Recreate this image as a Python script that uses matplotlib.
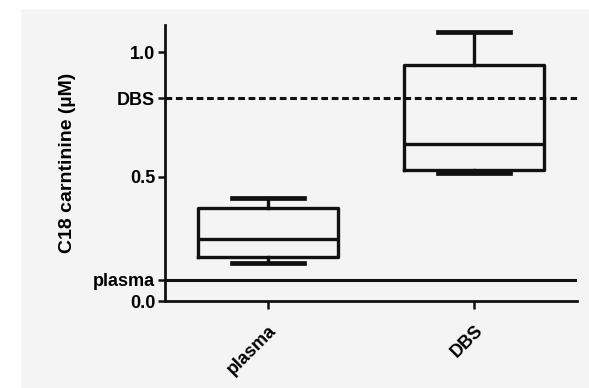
import matplotlib.pyplot as plt
from matplotlib.patches import Rectangle

plt.rcParams["font.family"] = ["Liberation Sans", "DejaVu Sans"]
plt.rcParams["font.weight"] = "bold"

groups = ["plasma", "DBS"]
whisker_low = [0.153, 0.516]
q1 = [0.177, 0.528]
median = [0.25, 0.633]
q3 = [0.375, 0.948]
whisker_high = [0.415, 1.08]

ref_labels = ["plasma", "DBS"]
ref_values = [0.085, 0.815]
ref_styles = ["-", (0, (2.2, 1.2))]

fig = plt.figure(figsize=(5.89, 3.88), dpi=100, facecolor="#f4f4f4")
fig.patches.append(Rectangle((0, 0.98), 1, 0.02, transform=fig.transFigure,
                             color="white", zorder=-1))
fig.patches.append(Rectangle((0, 0), 0.034, 1, transform=fig.transFigure,
                             color="white", zorder=-1))
ax = fig.add_axes([0.280, 0.224, 0.700, 0.712])
ax.set_facecolor("#f4f4f4")

stats = []
for i, g in enumerate(groups):
    stats.append({
        "label": g,
        "whislo": whisker_low[i],
        "q1": q1[i],
        "med": median[i],
        "q3": q3[i],
        "whishi": whisker_high[i],
        "fliers": [],
    })

lw = 2.4
ax.bxp(stats, positions=[1, 2], widths=0.68, showfliers=False,
       boxprops=dict(color="#111111", linewidth=lw),
       medianprops=dict(color="#111111", linewidth=lw),
       whiskerprops=dict(color="#111111", linewidth=lw),
       capprops=dict(color="#111111", linewidth=3.4),
       capwidths=0.35)

for val, style in zip(ref_values, ref_styles):
    ax.axhline(val, color="#111111", linewidth=2.2, linestyle=style)

ax.set_xlim(0.5, 2.5)
ax.set_ylim(0, 1.11)

ticks = [0.0, ref_values[0], 0.5, ref_values[1], 1.0]
labels = ["0.0", ref_labels[0], "0.5", ref_labels[1], "1.0"]
ax.set_yticks(ticks)
ax.set_yticklabels(labels, fontsize=13, fontweight="bold")
ax.set_xticks([1, 2])
ax.set_xticklabels(groups, rotation=45, ha="right", rotation_mode="anchor",
                   fontsize=13, fontweight="bold")
ax.set_ylabel("C18 carntinine (µM)", fontsize=14, fontweight="bold", labelpad=12)

for side in ["top", "right"]:
    ax.spines[side].set_visible(False)
for side in ["left", "bottom"]:
    ax.spines[side].set_linewidth(2)
    ax.spines[side].set_color("#111111")
ax.tick_params(axis="y", width=1.8, length=5, color="#111111", pad=2)
ax.tick_params(axis="x", width=1.8, length=6, color="#111111", pad=9)

fig.savefig("out.png", dpi=100, facecolor=fig.get_facecolor())
